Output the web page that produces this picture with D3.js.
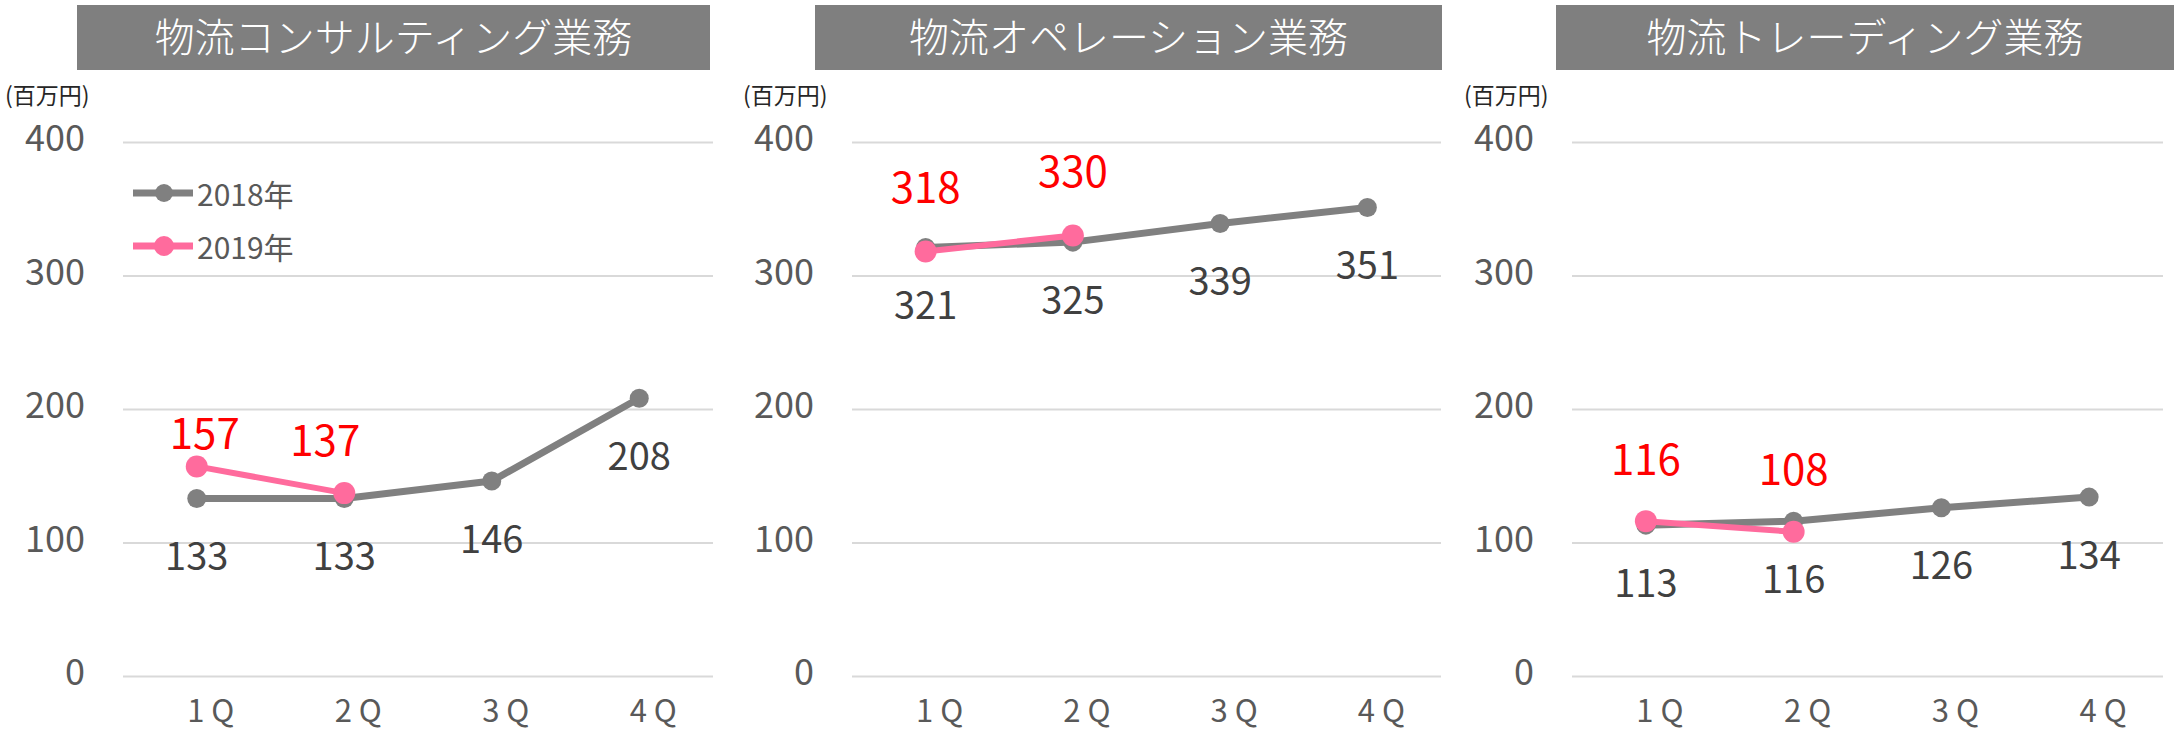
<!DOCTYPE html>
<html lang="ja">
<head>
<meta charset="utf-8">
<script src="https://cdn.jsdelivr.net/npm/d3@7"></script>
<style>
  body { margin: 0; background: #fff; }
  text { font-family: "Noto Sans CJK JP", "Noto Sans", sans-serif; }
</style>
</head>
<body>
<main></main>
<script>
// data
const quarters = ['1 Q', '2 Q', '3 Q', '4 Q']
const yTicks = [0, 100, 200, 300, 400]
const seriesNames = ['2018年', '2019年']
const panelTitles = ['物流コンサルティング業務', '物流オペレーション業務', '物流トレーディング業務']
const unitLabel = '(百万円)'

const consulting2018 = [133, 133, 146, 208]
const consulting2019 = [157, 137]
const operation2018 = [321, 325, 339, 351]
const operation2019 = [318, 330]
const trading2018 = [113, 116, 126, 134]
const trading2019 = [116, 108]

const panels = [
    { title: panelTitles[0], s2018: consulting2018, s2019: consulting2019 },
    { title: panelTitles[1], s2018: operation2018, s2019: operation2019 },
    { title: panelTitles[2], s2018: trading2018, s2019: trading2019 }
]

// layout
const size = { width: 2174, height: 730 }
const layout = [
    { left: 123, right: 713, boxL: 77, boxR: 710, unitX: 5, legend: true,
      redNudge: [[8, -36], [-19, -56]] },
    { left: 852, right: 1441, boxL: 815, boxR: 1442, unitX: 743, legend: false,
      redNudge: [[0, -67], [0, -67]] },
    { left: 1572, right: 2163, boxL: 1556, boxR: 2174, unitX: 1464, legend: false,
      redNudge: [[0, -65], [0, -65]] }
]
const colors = { s2018: '#808080', s2019: '#ff6b9d', label2018: '#404040', label2019: '#ff0000',
                 grid: '#d9d9d9', tick: '#595959', box: '#7f7f7f' }

const svg = d3.select('main')
    .append('svg')
    .attr('width', size.width)
    .attr('height', size.height)

const y = d3.scaleLinear().domain([0, 400]).range([676, 142])

panels.forEach((p, k) => {
    const L = layout[k]
    const w = L.right - L.left

    // title box
    svg.append('rect')
        .attr('x', L.boxL).attr('y', 5)
        .attr('width', L.boxR - L.boxL).attr('height', 65)
        .attr('fill', colors.box)
    svg.append('text')
        .attr('x', (L.boxL + L.boxR) / 2).attr('y', 35)
        .attr('text-anchor', 'middle')
        .attr('dominant-baseline', 'central')
        .attr('fill', '#fff')
        .style('font-size', '40px')
        .style('font-weight', 300)
        .text(p.title)

    // unit
    svg.append('text')
        .attr('x', L.unitX).attr('y', 94)
        .attr('dominant-baseline', 'central')
        .attr('fill', '#262626')
        .style('font-size', '23px')
        .text(unitLabel)

    const g = svg.append('g').attr('transform', `translate(${L.left},0)`)
    const x = d3.scaleBand().domain(quarters).range([0, w]).padding(0)
    const cx = i => x(quarters[i]) + x.bandwidth() / 2

    // y axis with gridlines
    const yAxis = g.append('g')
        .call(d3.axisLeft(y).tickValues(yTicks).tickSize(-w).tickPadding(38))
    yAxis.select('.domain').remove()
    yAxis.selectAll('line').attr('stroke', colors.grid).attr('stroke-width', 2)
    yAxis.selectAll('text')
        .attr('fill', colors.tick)
        .attr('dy', '0.33em')
        .attr('y', -3)
        .style('font-size', '36px')

    // x axis
    const xAxis = g.append('g')
        .attr('transform', 'translate(0,676)')
        .call(d3.axisBottom(x).tickSize(0).tickPadding(24))
    xAxis.select('.domain').remove()
    xAxis.selectAll('text')
        .attr('fill', colors.tick)
        .attr('dx', 14)
        .style('font-size', '31px')

    const line = d3.line().x((d, i) => cx(i)).y(d => y(d))

    // 2018
    g.append('path').datum(p.s2018)
        .attr('d', line).attr('fill', 'none')
        .attr('stroke', colors.s2018).attr('stroke-width', 7)
        .attr('stroke-linejoin', 'round')
    g.selectAll('.m18').data(p.s2018).enter().append('circle')
        .attr('class', 'm18')
        .attr('cx', (d, i) => cx(i)).attr('cy', d => y(d))
        .attr('r', 9.5).attr('fill', colors.s2018)

    // 2019
    g.append('path').datum(p.s2019)
        .attr('d', line).attr('fill', 'none')
        .attr('stroke', colors.s2019).attr('stroke-width', 6)
        .attr('stroke-linejoin', 'round')
    g.selectAll('.m19').data(p.s2019).enter().append('circle')
        .attr('class', 'm19')
        .attr('cx', (d, i) => cx(i)).attr('cy', d => y(d))
        .attr('r', 11).attr('fill', colors.s2019)

    // labels
    g.selectAll('.l18').data(p.s2018).enter().append('text')
        .attr('class', 'l18')
        .attr('x', (d, i) => cx(i)).attr('y', d => y(d) + 55)
        .attr('text-anchor', 'middle').attr('dominant-baseline', 'central')
        .attr('fill', colors.label2018)
        .style('font-size', '38px')
        .text(d => d)
    g.selectAll('.l19').data(p.s2019).enter().append('text')
        .attr('class', 'l19')
        .attr('x', (d, i) => cx(i) + L.redNudge[i][0])
        .attr('y', (d, i) => y(d) + L.redNudge[i][1])
        .attr('text-anchor', 'middle').attr('dominant-baseline', 'central')
        .attr('fill', colors.label2019)
        .style('font-size', '42px')
        .text(d => d)

    // legend
    if (L.legend) {
        const leg = svg.selectAll('.legend').data(seriesNames).enter().append('g')
            .attr('class', 'legend')
            .attr('transform', (d, i) => `translate(133,${193 + i * 53})`)
        leg.append('line')
            .attr('x1', 0).attr('x2', 60)
            .attr('stroke', (d, i) => i ? colors.s2019 : colors.s2018)
            .attr('stroke-width', 7)
        leg.append('circle')
            .attr('cx', 31).attr('r', (d, i) => i ? 10 : 9)
            .attr('fill', (d, i) => i ? colors.s2019 : colors.s2018)
        leg.append('text')
            .attr('x', 64).attr('dominant-baseline', 'central')
            .attr('fill', colors.tick)
            .style('font-size', '30px')
            .text(d => d)
    }
})
</script>
</body>
</html>
